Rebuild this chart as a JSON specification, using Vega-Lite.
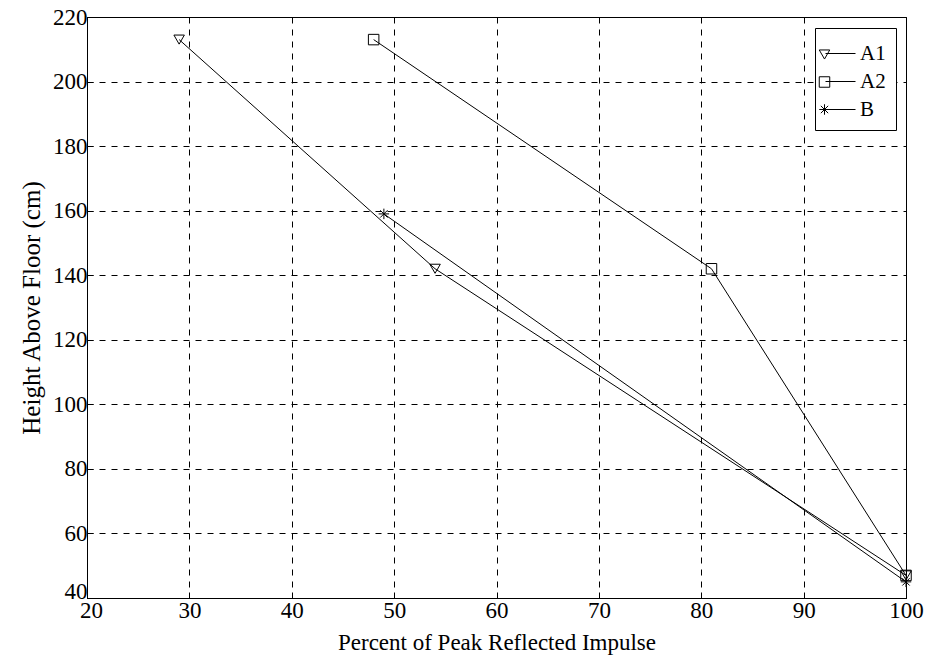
{
  "$schema": "https://vega.github.io/schema/vega-lite/v6.json",
  "autosize": "none",
  "padding": {"left": 87, "top": 17, "right": 24, "bottom": 60},
  "width": 819,
  "height": 581,
  "background": "white",
  "config": {
    "font": "Liberation Serif",
    "view": {"stroke": "black", "strokeWidth": 1},
    "axis": {
      "labelFont": "Liberation Serif",
      "titleFont": "Liberation Serif",
      "labelFontSize": 23,
      "titleFontSize": 23,
      "titleFontWeight": "normal",
      "labelColor": "black",
      "titleColor": "black",
      "domainColor": "black",
      "tickColor": "black",
      "tickSize": -6,
      "gridColor": "black",
      "gridOpacity": 1,
      "gridDash": [6, 6],
      "gridWidth": 1,
      "labelFlush": false
    },
    "legend": {
      "labelFont": "Liberation Serif",
      "labelFontSize": 21,
      "labelColor": "black"
    }
  },
  "data": {
    "values": [
      {"series": "A1", "percent": 29, "height": 213},
      {"series": "A1", "percent": 54, "height": 142},
      {"series": "A1", "percent": 100, "height": 47},
      {"series": "A2", "percent": 48, "height": 213},
      {"series": "A2", "percent": 81, "height": 142},
      {"series": "A2", "percent": 100, "height": 47},
      {"series": "B", "percent": 49, "height": 159},
      {"series": "B", "percent": 100, "height": 45}
    ]
  },
  "encoding": {
    "x": {
      "field": "percent", "type": "quantitative",
      "scale": {"domain": [20, 100], "nice": false, "zero": false},
      "axis": {
        "values": [20, 30, 40, 50, 60, 70, 80, 90, 100],
        "title": "Percent of Peak Reflected Impulse",
        "labelFont": "Liberation Serif",
        "labelPadding": 7,
        "titlePadding": 9,
        "labelFlush": false,
        "labelOffset": {"condition": {"test": "datum.value === 20", "value": 4}, "value": 0}
      }
    },
    "y": {
      "field": "height", "type": "quantitative",
      "scale": {"domain": [40, 220], "nice": false, "zero": false},
      "axis": {
        "values": [40, 60, 80, 100, 120, 140, 160, 180, 200, 220],
        "title": "Height Above Floor (cm)",
        "titleFontSize": 25,
        "labelFont": "Liberation Serif",
        "labelPadding": 6,
        "titlePadding": 8,
        "labelFlush": false,
        "labelBaseline": {"condition": {"test": "datum.value === 40", "value": "alphabetic"}, "value": "middle"}
      }
    }
  },
  "layer": [
    {
      "mark": {"type": "line", "strokeWidth": 1},
      "encoding": {
        "color": {
          "field": "series", "type": "nominal",
          "scale": {"range": ["black", "black", "black"]},
          "legend": {
            "title": null,
            "orient": "none",
            "legendX": 728,
            "legendY": 11,
            "padding": 10,
            "strokeColor": "black",
            "fillColor": "white",
            "symbolType": "stroke",
            "symbolSize": 900,
            "symbolStrokeColor": "black",
            "symbolStrokeWidth": 1,
            "rowPadding": 2,
            "labelOffset": 4
          }
        }
      }
    },
    {
      "mark": {"type": "point", "filled": false, "color": "black", "strokeWidth": 1, "opacity": 1},
      "encoding": {
        "shape": {
          "field": "series", "type": "nominal",
          "scale": {"domain": ["A1", "A2", "B"], "range": ["triangle-down", "square", "M-1,0H1M0,-1V1M-0.7,-0.7L0.7,0.7M-0.7,0.7L0.7,-0.7"]},
          "legend": {
            "title": null,
            "orient": "none",
            "legendX": 727,
            "legendY": 27,
            "padding": 0,
            "symbolSize": 110,
            "symbolStrokeColor": "black",
            "symbolFillColor": "white",
            "symbolStrokeWidth": 1,
            "rowPadding": 5.5,
            "labelFontSize": 21,
            "labelExpr": "' '",
            "labelOffset": 6
          }
        },
        "size": {"value": 110}
      }
    }
  ]
}
